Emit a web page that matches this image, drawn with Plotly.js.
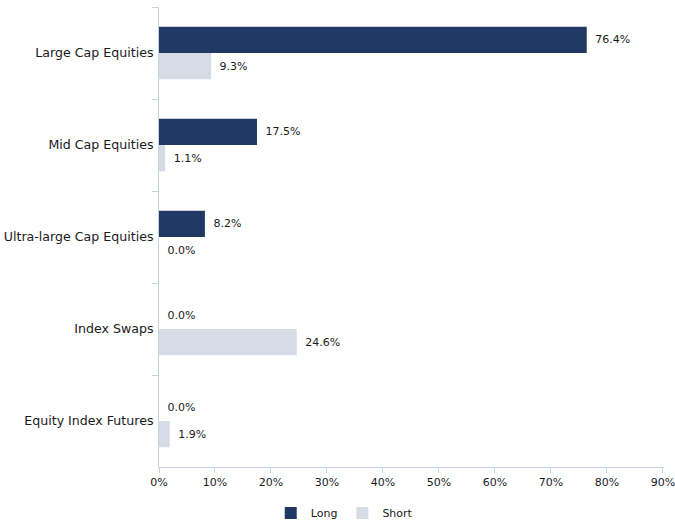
<!DOCTYPE html>
<html>
<head>
<meta charset="utf-8">
<script src="https://cdn.plot.ly/plotly-3.0.1.min.js"></script>
<style>html,body{margin:0;padding:0;background:#fff;}#chart{width:675px;height:523px;}</style>
</head>
<body>
<div id="chart"></div>
<script>
const categories = ["Large Cap Equities", "Mid Cap Equities", "Ultra-large Cap Equities", "Index Swaps", "Equity Index Futures"];
const longValues = [76.4, 17.5, 8.2, 0.0, 0.0];
const shortValues = [9.3, 1.1, 0.0, 24.6, 1.9];
const xTickValues = [0, 10, 20, 30, 40, 50, 60, 70, 80, 90];
const xTickLabels = ["0%", "10%", "20%", "30%", "40%", "50%", "60%", "70%", "80%", "90%"];
const seriesNames = ["Long", "Short"];
const seriesColors = ["#1f3864", "#d6dce5"];

const fontFam = "DejaVu Sans, Verdana, sans-serif";
const txtColor = "#1a1a1a";

function mk(name, vals, color) {
  return {
    type: "bar", orientation: "h", name: name, showlegend: false,
    y: categories, x: vals,
    marker: {color: color, line: {width: 0}},
    text: vals.map(v => "\u2002" + v.toFixed(1) + "%"),
    textposition: "outside",
    cliponaxis: false,
    textfont: {family: fontFam, size: 11, color: txtColor},
    hoverinfo: "none"
  };
}
function leg(name, color) {
  return {type: "scatter", mode: "markers", name: name, x: [null], y: [null],
          marker: {symbol: "square", size: 8, color: color}, showlegend: true, hoverinfo: "none"};
}

const data = [
  mk(seriesNames[0], longValues, seriesColors[0]),
  mk(seriesNames[1], shortValues, seriesColors[1]),
  leg(seriesNames[0], seriesColors[0]),
  leg(seriesNames[1], seriesColors[1])
];

const layout = {
  width: 675, height: 523,
  margin: {l: 159, r: 11, t: 7, b: 56},
  paper_bgcolor: "#fff", plot_bgcolor: "#fff",
  barmode: "group", bargap: 0.43, bargroupgap: 0,
  font: {family: fontFam, size: 11, color: txtColor},
  showlegend: true,
  legend: {orientation: "h", x: 0.51, xref: "container", xanchor: "center",
           y: 0.019, yref: "container", yanchor: "middle",
           font: {family: fontFam, size: 11, color: txtColor}, itemwidth: 30,
           tracegroupgap: 0, traceorder: "normal", itemsizing: "constant"},
  xaxis: {range: [0, 90.2], tickvals: xTickValues, ticktext: xTickLabels, showgrid: false, zeroline: false,
          showline: true, linecolor: "#c9d1dd", linewidth: 1, ticks: "outside", ticklen: 5, tickcolor: "#c9d1dd",
          ticklabeloverflow: "allow",
          tickfont: {family: fontFam, size: 11, color: txtColor}, fixedrange: true, automargin: false},
  yaxis: {autorange: "reversed", type: "category", showgrid: false, zeroline: false,
          showline: true, linecolor: "#c9d1dd", linewidth: 1, ticks: "outside", ticklen: 6, tickcolor: "#c9d1dd",
          tickson: "boundaries", ticklabelstandoff: 2, automargin: false,
          tickfont: {family: fontFam, size: 12.6, color: txtColor}, fixedrange: true}
};

Plotly.newPlot("chart", data, layout, {displayModeBar: false, staticPlot: true});
</script>
</body>
</html>
